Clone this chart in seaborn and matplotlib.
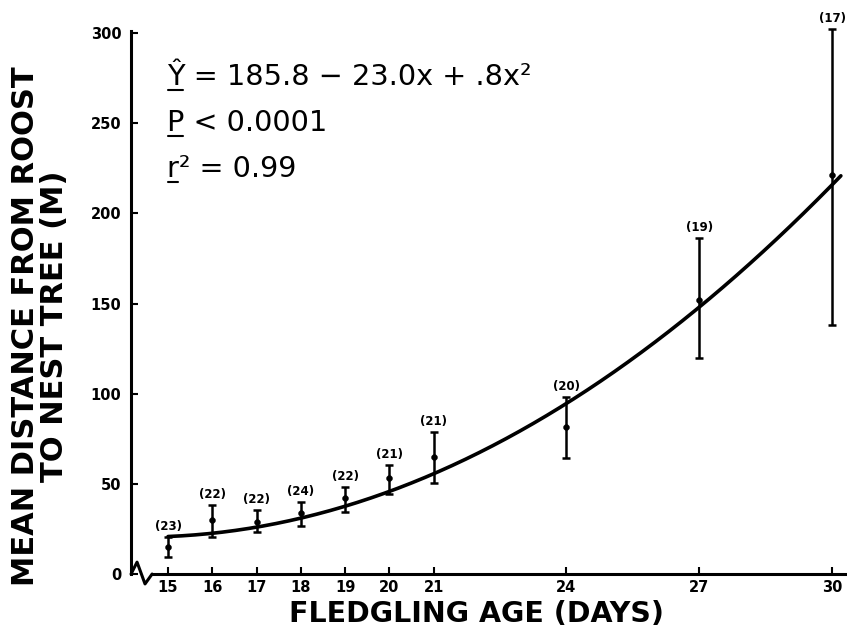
import numpy as np
import pandas as pd
import matplotlib
matplotlib.use("Agg")
import matplotlib.pyplot as plt
from matplotlib.lines import Line2D
from matplotlib.transforms import IdentityTransform
import seaborn as sns

# ---- data ----
age_days = [15, 16, 17, 18, 19, 20, 21, 24, 27, 30]
mean_dist = [15.0, 30.0, 28.8, 33.8, 42.2, 53.2, 64.9, 81.5, 152.0, 221.3]
upper_dist = [20.5, 38.3, 35.5, 40.0, 48.3, 60.5, 78.8, 98.2, 186.4, 302.3]
lower_dist = [9.4, 20.5, 23.3, 26.6, 34.4, 44.4, 50.5, 64.3, 119.8, 138.1]
sample_n = ["(23)", "(22)", "(22)", "(24)", "(22)", "(21)", "(21)", "(20)", "(19)", "(17)"]

# regression printed on the chart: Y = 185.8 - 23.0x + .8x^2
coef_b0, coef_b1, coef_b2 = 185.8, -23.0, 0.8
fit_range = (15.0, 30.2)

y_ticks = [0, 50, 100, 150, 200, 250, 300]
x_ticks = [15, 16, 17, 18, 19, 20, 21, 24, 27, 30]

eq_lines = ["Ŷ = 185.8 − 23.0x + .8x²", "P < 0.0001", "r² = 0.99"]

sns.set_theme(style="ticks")
plt.rcParams["font.family"] = ["DejaVu Sans"]
for key in ("text.color", "axes.labelcolor", "xtick.color", "ytick.color",
            "axes.edgecolor"):
    plt.rcParams[key] = "black"

df = pd.DataFrame({"age": age_days, "mean": mean_dist,
                   "hi": upper_dist, "lo": lower_dist, "n": sample_n})
fit_x = np.linspace(fit_range[0], fit_range[1], 200)
fit_df = pd.DataFrame({"age": fit_x,
                       "dist": coef_b0 + coef_b1 * fit_x + coef_b2 * fit_x ** 2})

fig = plt.figure(figsize=(8.47, 6.29), dpi=100)
ax = fig.add_axes([0.1547, 0.0874, 0.8433, 0.8744])

# fitted curve
sns.lineplot(data=fit_df, x="age", y="dist", color="black", linewidth=2.6, ax=ax)

# error bars
ax.errorbar(df["age"], df["mean"],
            yerr=[df["mean"] - df["lo"], df["hi"] - df["mean"]],
            fmt="none", ecolor="black", elinewidth=1.8, capsize=3, capthick=1.8)
# means
sns.scatterplot(data=df, x="age", y="mean", color="black", s=18,
                edgecolor="black", ax=ax, zorder=5)

# sample size labels
for xa, hi, lab in zip(df["age"], df["hi"], df["n"]):
    ax.annotate(lab, xy=(xa, hi), xytext=(0, 7.5), textcoords="offset points",
                ha="center", va="center", fontsize=8.5, fontweight="bold",
                color="black")

ax.set_xlim(14.164, 30.3)
ax.set_ylim(0, 305)
ax.set_xticks(x_ticks)
ax.set_xticklabels([str(t) for t in x_ticks])
ax.set_yticks(y_ticks)
ax.set_yticklabels([str(t) for t in y_ticks])

for side in ("top", "right"):
    ax.spines[side].set_visible(False)
for side in ("left", "bottom"):
    ax.spines[side].set_linewidth(2.2)
    ax.spines[side].set_color("black")
ax.spines["left"].set_bounds(0, 301)
ax.spines["bottom"].set_bounds(14.64, 30.3)

ax.tick_params(axis="both", direction="in", length=5, width=1.5,
               labelsize=10.5, colors="black")
ax.tick_params(axis="x", pad=4)
ax.tick_params(axis="y", pad=7)
for lab in ax.get_xticklabels() + ax.get_yticklabels():
    lab.set_fontweight("bold")

# axis-break squiggle between the y-axis and the x-axis
ax.plot([14.164, 14.30, 14.48, 14.64], [0, 6.6, -5.5, 0], color="black",
        linewidth=2.2, clip_on=False, solid_joinstyle="round")

ax.set_xlabel("FLEDGLING AGE (DAYS)", fontsize=20.5, fontweight="bold",
              va="center", color="black")
ax.xaxis.set_label_coords(0.484, -0.072)
ax.set_ylabel("MEAN DISTANCE FROM ROOST\nTO NEST TREE (M)", fontsize=22,
              fontweight="bold", va="center", linespacing=1.0, color="black")
ax.yaxis.set_label_coords(-0.128, 0.451)

# regression annotation, first letter underlined as in the reference
eq_x = 0.050
eq_y = [0.889, 0.805, 0.722]
eq_size = 20.7
fig.canvas.draw()
renderer = fig.canvas.get_renderer()
for t, yy in zip(eq_lines, eq_y):
    ax.text(eq_x, yy, t, transform=ax.transAxes, ha="left", va="baseline",
            fontsize=eq_size, color="black")
    helper = ax.text(eq_x, yy, t[0], transform=ax.transAxes, ha="left",
                     va="baseline", fontsize=eq_size)
    bb = helper.get_window_extent(renderer)
    helper.remove()
    base = ax.transAxes.transform((eq_x, yy))[1]
    fig.add_artist(Line2D([bb.x0 + 1, bb.x1 - 1], [base - 5, base - 5],
                          transform=IdentityTransform(), color="black",
                          linewidth=1.5))

fig.savefig("out.png", dpi=100)
